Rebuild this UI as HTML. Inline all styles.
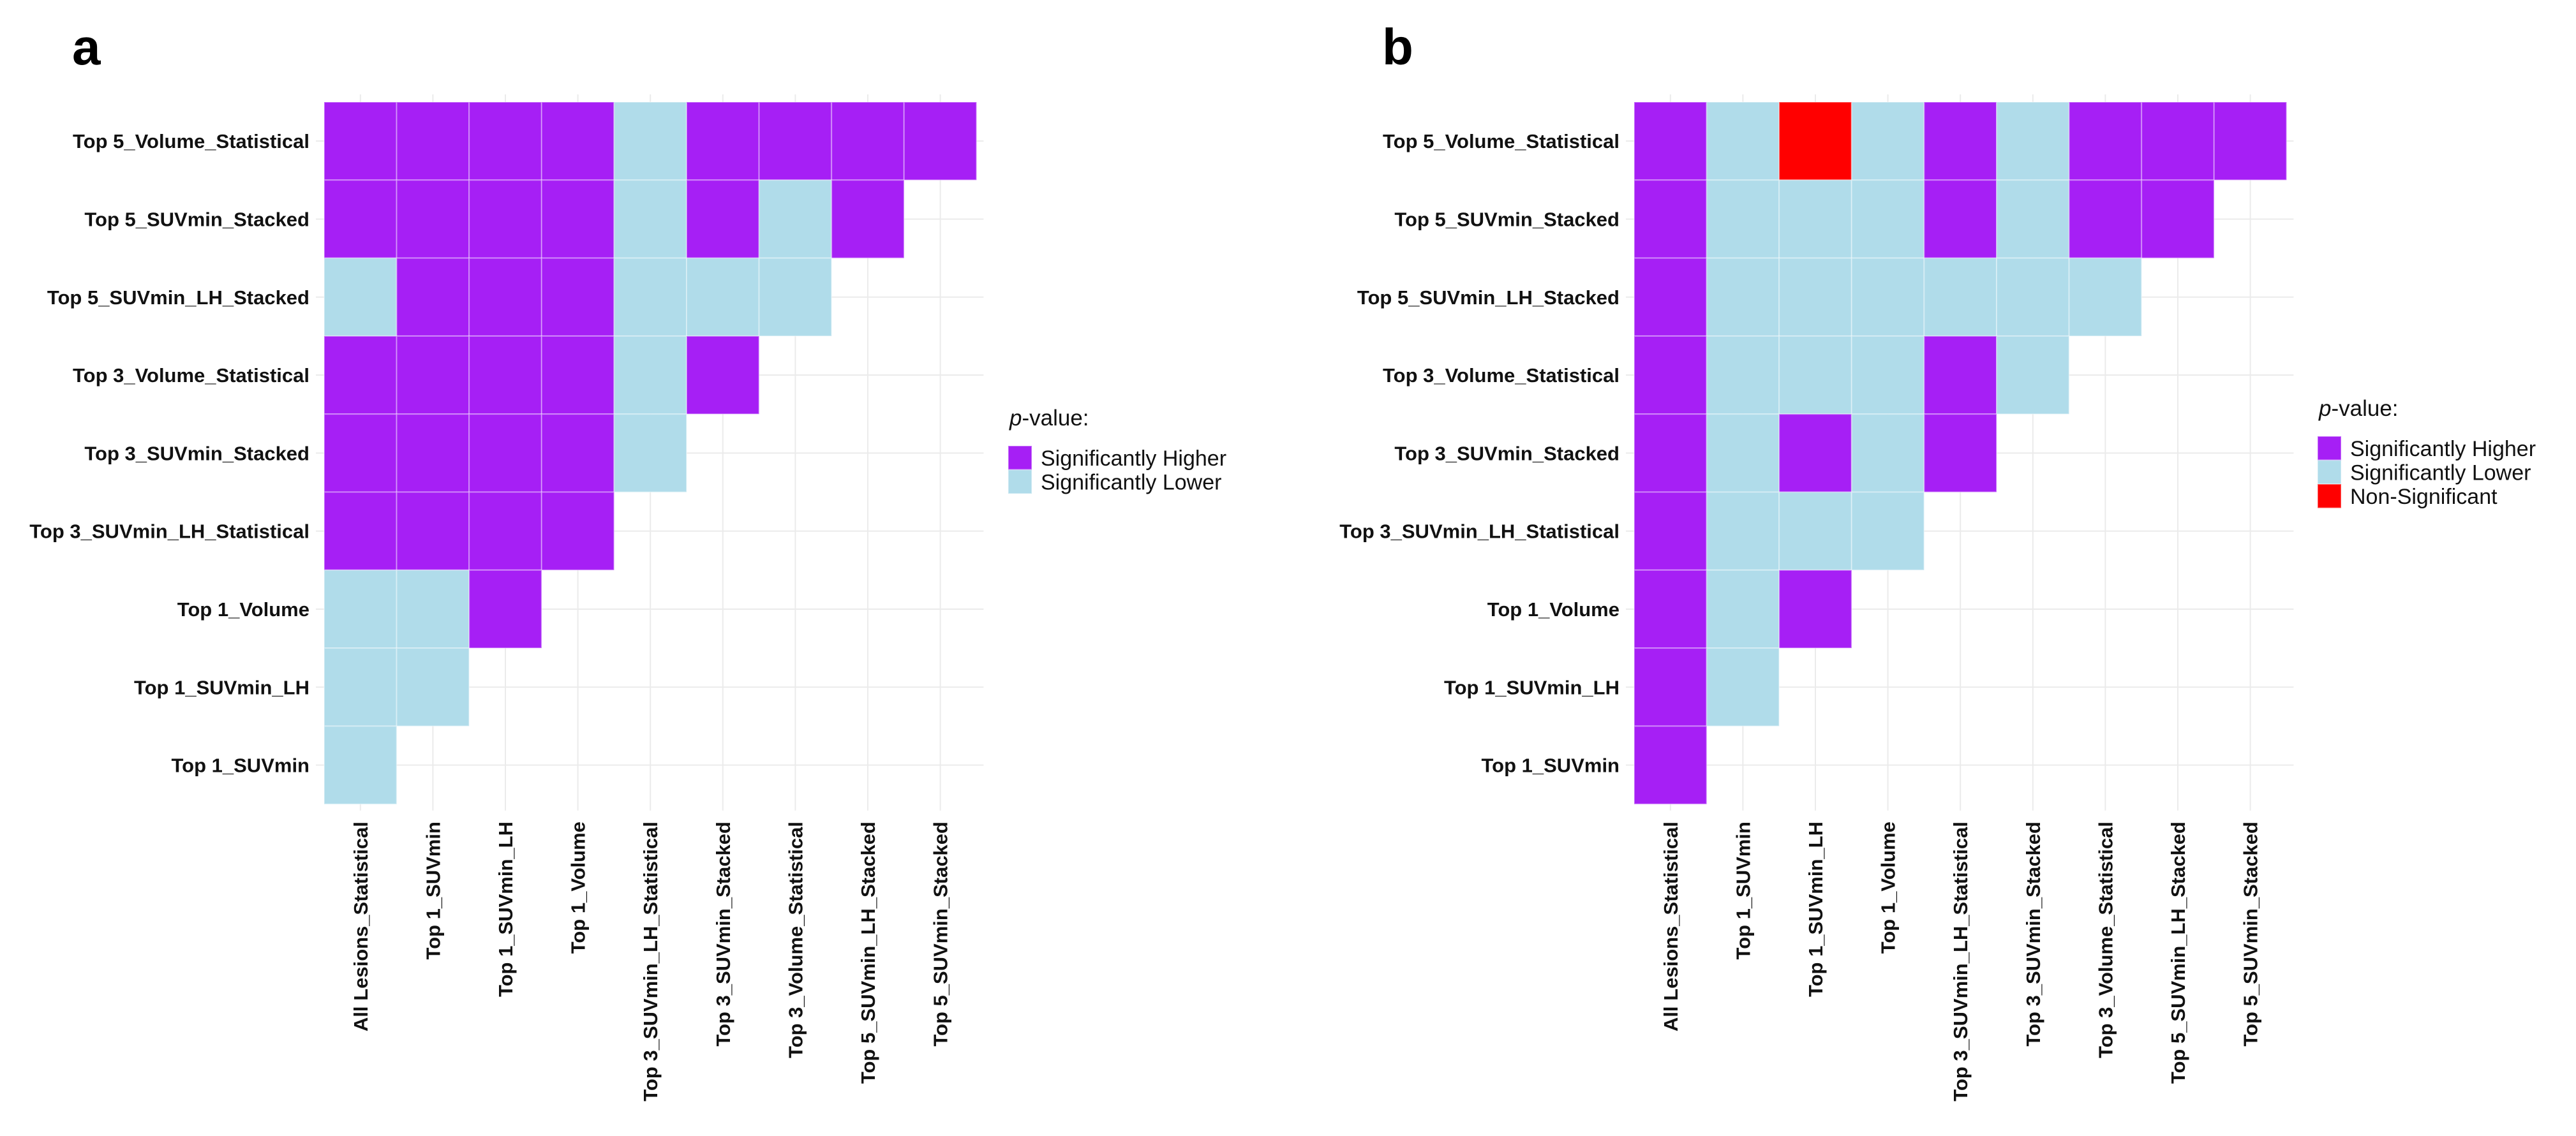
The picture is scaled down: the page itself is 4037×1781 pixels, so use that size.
<!DOCTYPE html>
<html><head><meta charset="utf-8">
<style>
html,body{margin:0;padding:0;background:#fff;}
svg{display:block;}
text{font-family:"Liberation Sans",Arial,sans-serif;}
</style></head>
<body>
<svg id="fig" width="4037" height="1781" viewBox="0 0 4037 1781" xmlns="http://www.w3.org/2000/svg">
<rect width="4037" height="1781" fill="#fff"/>
</svg>
<script>
const rowLabels = ["Top 5_Volume_Statistical","Top 5_SUVmin_Stacked","Top 5_SUVmin_LH_Stacked","Top 3_Volume_Statistical","Top 3_SUVmin_Stacked","Top 3_SUVmin_LH_Statistical","Top 1_Volume","Top 1_SUVmin_LH","Top 1_SUVmin"];
const colLabels = ["All Lesions_Statistical","Top 1_SUVmin","Top 1_SUVmin_LH","Top 1_Volume","Top 3_SUVmin_LH_Statistical","Top 3_SUVmin_Stacked","Top 3_Volume_Statistical","Top 5_SUVmin_LH_Stacked","Top 5_SUVmin_Stacked"];
// H = Significantly Higher, L = Significantly Lower, N = Non-Significant
const valuesA = [
 ["H","H","H","H","L","H","H","H","H"],
 ["H","H","H","H","L","H","L","H"],
 ["L","H","H","H","L","L","L"],
 ["H","H","H","H","L","H"],
 ["H","H","H","H","L"],
 ["H","H","H","H"],
 ["L","L","H"],
 ["L","L"],
 ["L"]
];
const valuesB = [
 ["H","L","N","L","H","L","H","H","H"],
 ["H","L","L","L","H","L","H","H"],
 ["H","L","L","L","L","L","L"],
 ["H","L","L","L","H","L"],
 ["H","L","H","L","H"],
 ["H","L","L","L"],
 ["H","L","H"],
 ["H","L"],
 ["H"]
];
const legendKeysA = ["H","L"];
const legendKeysB = ["H","L","N"];
const legendText = {H:"Significantly Higher",L:"Significantly Lower",N:"Non-Significant"};
const fillColor = {H:"#A61FF5",L:"#B0DCEA",N:"#FF0000"};

const NS="http://www.w3.org/2000/svg";
const svg=document.getElementById('fig');
function mk(tag,attrs,parent){const e=document.createElementNS(NS,tag);for(const k in attrs)e.setAttribute(k,attrs[k]);(parent||svg).appendChild(e);return e;}

const CW=113.6, RH=122.3, TOP=160;
function drawPanel(left, letter, values, keys, legX, legTitleY, name){
  const g=mk('g',{});
  
  
  const xc=i=>left+CW*(i+0.5);
  const yc=j=>TOP+RH*(j+0.5);
  for(let i=0;i<colLabels.length;i++){
    const l=mk('line',{x1:xc(i),x2:xc(i),y1:TOP-12,y2:TOP+RH*9+10,stroke:"#ebebeb","stroke-width":2},g);
    
    
  }
  for(let j=0;j<rowLabels.length;j++){
    const l=mk('line',{x1:left-13,x2:left+CW*9+11,y1:yc(j),y2:yc(j),stroke:"#ebebeb","stroke-width":2},g);
    
    
  }
  values.forEach((row,j)=>row.forEach((v,i)=>{
    const r=mk('rect',{x:left+CW*i,y:TOP+RH*j,width:CW,height:RH,fill:fillColor[v],stroke:"rgba(255,255,255,0.35)","stroke-width":2},g);
    
    
  }));
  rowLabels.forEach((t,j)=>{
    const e=mk('text',{x:left-23,y:yc(j)+11,"text-anchor":"end","font-size":31,"font-weight":"bold",fill:"#111"},g);
    e.textContent=t;
    
    
  });
  colLabels.forEach((t,i)=>{
    const x=xc(i)+11, y=1288;
    const e=mk('text',{x:x,y:y,"text-anchor":"end","font-size":31,"font-weight":"bold",fill:"#111",transform:`rotate(-90 ${x} ${y})`},g);
    e.textContent=t;
    
    
  });
  const pl=mk('text',{x:left-395,y:101,"font-size":80,"font-weight":"bold",fill:"#000"},g);
  pl.textContent=letter;
  
  
  const lg=mk('g',{},g);
  
  
  const tt=mk('text',{x:legX+2,y:legTitleY,"font-size":35,fill:"#111"},lg);
  tt.innerHTML='<tspan font-style="italic">p</tspan>-value:';
  
  
  keys.forEach((k,n)=>{
    const ky=legTitleY+32+n*37.5;
    const r=mk('rect',{x:legX,y:ky,width:37,height:37.5,fill:fillColor[k],stroke:"rgba(255,255,255,0.35)","stroke-width":2},lg);
    
    
    const t=mk('text',{x:legX+51,y:ky+31,"font-size":34,fill:"#111"},lg);
    t.textContent=legendText[k];
    
    
  });
}
drawPanel(508,"a",valuesA,legendKeysA,1580,667,"panel-a-heatmap");
drawPanel(2561,"b",valuesB,legendKeysB,3632,652,"panel-b-heatmap");
</script>
</body></html>
